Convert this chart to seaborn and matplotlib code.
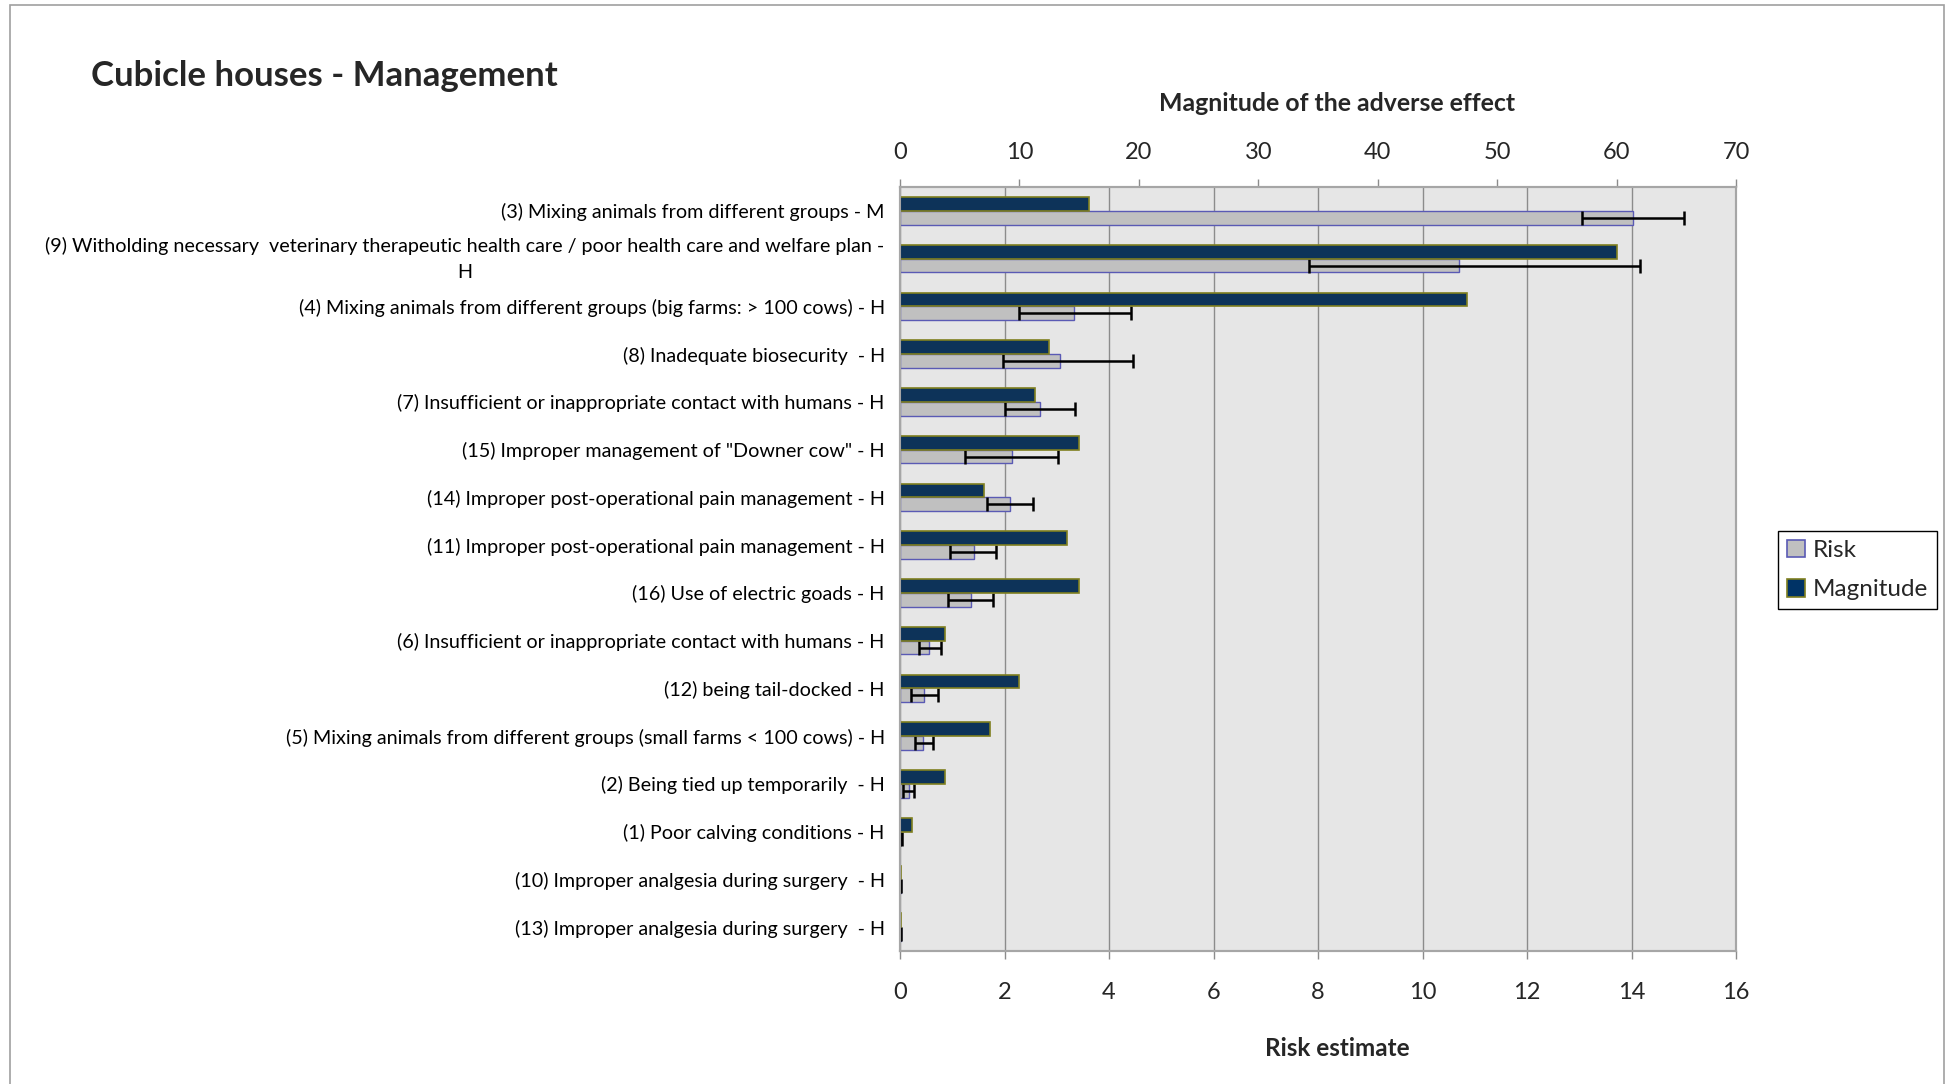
import numpy as np
import pandas as pd
import matplotlib.pyplot as plt
import seaborn as sns
from matplotlib.patches import Patch, Rectangle

# data
hazards = [
    "(3) Mixing animals from different groups - M",
    "(9) Witholding necessary  veterinary therapeutic health care / poor health care and welfare plan -\nH",
    "(4) Mixing animals from different groups (big farms: > 100 cows) - H",
    "(8) Inadequate biosecurity  - H",
    "(7) Insufficient or inappropriate contact with humans - H",
    "(15) Improper management of \"Downer cow\" - H",
    "(14) Improper post-operational pain management - H",
    "(11) Improper post-operational pain management - H",
    "(16) Use of electric goads - H",
    "(6) Insufficient or inappropriate contact with humans - H",
    "(12) being tail-docked - H",
    "(5) Mixing animals from different groups (small farms < 100 cows) - H",
    "(2) Being tied up temporarily  - H",
    "(1) Poor calving conditions - H",
    "(10) Improper analgesia during surgery  - H",
    "(13) Improper analgesia during surgery  - H",
]
magnitude = [15.8, 60.0, 47.5, 12.5, 11.3, 15.0, 7.0, 14.0, 15.0, 3.75, 10.0, 7.5, 3.75, 1.0, 0.1, 0.1]
risk = [14.03, 10.70, 3.33, 3.07, 2.67, 2.14, 2.10, 1.41, 1.35, 0.56, 0.45, 0.44, 0.17, 0.02, 0.01, 0.01]
risk_low = [13.06, 7.82, 2.27, 1.97, 2.00, 1.25, 1.66, 0.96, 0.92, 0.36, 0.21, 0.28, 0.06, 0.0, 0.0, 0.0]
risk_high = [15.01, 14.16, 4.43, 4.46, 3.34, 3.03, 2.54, 1.83, 1.78, 0.79, 0.73, 0.63, 0.27, 0.03, 0.02, 0.02]

series_order = ["Magnitude", "Risk"]
fill = {"Magnitude": "#003366", "Risk": "#C0C0C0"}
edge = {"Magnitude": "#7F7F1F", "Risk": "#5A5AB4"}

df = pd.DataFrame({"hazard": hazards, "Magnitude": magnitude, "Risk": risk})
long_df = df.melt(id_vars="hazard", var_name="series", value_name="value")

sns.set_style("white")
plt.rcParams["font.family"] = ["Lato", "DejaVu Sans"]

fig = plt.figure(figsize=(19.5, 10.84), dpi=100)
ax = fig.add_axes([900 / 1950, 1 - 951 / 1084, 836 / 1950, 764 / 1084])
ax.set_facecolor("#E6E6E6")
ax2 = ax.twiny()

# risk bars on the bottom axis, magnitude bars on the top axis
sns.barplot(data=long_df[long_df["series"] == "Risk"], x="value", y="hazard",
            hue="series", hue_order=series_order, palette=fill, order=hazards,
            dodge=True, width=0.58, edgecolor=edge["Risk"], linewidth=1.0,
            legend=False, ax=ax)
sns.barplot(data=long_df[long_df["series"] == "Magnitude"], x="value", y="hazard",
            hue="series", hue_order=series_order, palette=fill, order=hazards,
            dodge=True, width=0.58, edgecolor=edge["Magnitude"], linewidth=1.2,
            legend=False, ax=ax2)

# asymmetric error bars on the risk bars
centers = [p.get_y() + p.get_height() / 2 for p in ax.patches]
risk_arr = np.array(risk)
ax.errorbar(risk_arr, centers,
            xerr=[risk_arr - np.array(risk_low), np.array(risk_high) - risk_arr],
            fmt="none", ecolor="black", elinewidth=1.8, capsize=5, capthick=1.8, zorder=3)

ax.set_xlim(0, 16)
ax.set_xticks(np.arange(0, 17, 2))
ax2.set_xlim(0, 70)
ax2.set_xticks(np.arange(0, 71, 10))
ax.set_ylim(len(hazards) - 0.5, -0.5)

ax.grid(axis="x", color="#8C8C8C", linewidth=1.0)
ax.grid(axis="y", visible=False)
ax2.grid(False)
ax.set_axisbelow(True)

# category labels, tick marks between categories
ax.set_ylabel("")
ax.tick_params(axis="y", which="major", length=0, pad=11, labelsize=14.2, labelcolor="black")
ax.set_yticks(np.arange(len(hazards) + 1) - 0.5, minor=True)
ax.tick_params(axis="y", which="minor", length=6, width=1.2, color="#A6A6A6", direction="out")
for lab in ax.get_yticklabels():
    lab.set_multialignment("center")
    if "\n" in lab.get_text():
        lab.set_linespacing(1.63)
        lab.set_verticalalignment("center")

ax.tick_params(axis="x", length=6, width=1.0, color="#8C8C8C", labelsize=17, pad=16)
ax2.tick_params(axis="x", length=6, width=1.0, color="#8C8C8C", labelsize=17, pad=11)

for a in (ax, ax2):
    for s in a.spines.values():
        s.set_color("#A6A6A6")
        s.set_linewidth(1.5)

ax.set_xlabel("Risk estimate", fontsize=17.5, fontweight="bold", va="center")
ax.xaxis.set_label_coords(0.523, -0.128)
ax2.set_xlabel("Magnitude of the adverse effect", fontsize=17.9, fontweight="bold", va="center")
ax2.xaxis.set_label_coords(0.523, 1.109)

fig.text(91 / 1950, 1 - 76 / 1084, "Cubicle houses - Management",
         fontsize=25, fontweight="bold", va="center", ha="left")

handles = [Patch(facecolor=fill[s], edgecolor=edge[s], linewidth=1.2) for s in ["Risk", "Magnitude"]]
fig.legend(handles, ["Risk", "Magnitude"], loc="upper left",
           bbox_to_anchor=(1778 / 1950, 1 - 531 / 1084), fontsize=17.5, frameon=True,
           fancybox=False, edgecolor="black", framealpha=1, borderpad=0.35,
           handlelength=0.75, handleheight=0.75, handletextpad=0.35, labelspacing=0.75,
           borderaxespad=0)

fig.patches.append(Rectangle((10 / 1950, -0.01), 1934 / 1950, 1 - 5 / 1084 + 0.01,
                             transform=fig.transFigure, fill=False,
                             edgecolor="#A0A0A0", linewidth=1.2))

fig.savefig("out.png", dpi=100)
